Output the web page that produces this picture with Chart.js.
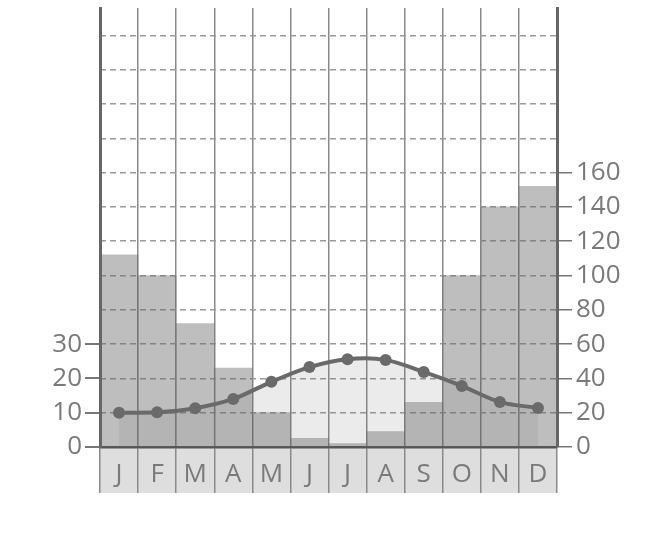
<!DOCTYPE html>
<html>
<head>
<meta charset="utf-8">
<script src="https://cdn.jsdelivr.net/npm/chart.js@4/dist/chart.umd.min.js"></script>
<style>
  body { margin: 0; background: #fff; }
  #wrap { width: 655px; height: 547px; }
</style>
</head>
<body>
<div id="wrap"><canvas id="canvas"></canvas></div>
<script>
const months = ['J', 'F', 'M', 'A', 'M', 'J', 'J', 'A', 'S', 'O', 'N', 'D']
const precip = [112, 100, 72, 46, 20, 5, 2, 9, 26, 100, 140, 152]
const temp = [10, 10.1, 11.3, 14, 19, 23.3, 25.6, 25.4, 21.9, 17.8, 13.1, 11.4]
const tempTicksMax = 30
const precipTicksMax = 160

const family = '"Open Sans", "Noto Sans", sans-serif'
const font = {family: family, size: 26}
const textGrey = '#7a7a7a'
// hidden ticks get a tiny font so they do not push the plot down
const tickFont = limit => c => ({family: family, size: c.tick && c.tick.value <= limit ? 26 : 1})

// light grey band behind the month letters
const monthBand = {
    id: 'monthBand',
    beforeDraw(chart) {
        const {ctx, chartArea} = chart
        const h = chart.options.scales.x.grid.tickLength
        ctx.save()
        ctx.fillStyle = '#dedede'
        ctx.fillRect(chartArea.left, chartArea.bottom, chartArea.right - chartArea.left, h)
        ctx.restore()
    }
}

new Chart(document.getElementById('canvas').getContext('2d'), {
    type: 'bar',
    data: {
        labels: months,
        datasets: [
            {
                type: 'line',
                label: 'Temperature',
                data: temp,
                yAxisID: 'y',
                order: 0,
                borderColor: '#6a6a6a',
                borderWidth: 4,
                pointRadius: 6,
                pointBackgroundColor: '#6a6a6a',
                pointBorderWidth: 0,
                tension: 0.3,
                fill: 'origin',
                backgroundColor: 'rgba(110,110,110,0.14)',
            },
            {
                label: 'Precipitation',
                data: precip,
                yAxisID: 'y1',
                order: 1,
                backgroundColor: 'rgba(100,100,100,0.42)',
                barPercentage: 1,
                categoryPercentage: 1,
            },
        ],
    },
    options: {
        responsive: true,
        maintainAspectRatio: false,
        animation: false,
        layout: {padding: {top: 8, left: 0, right: 0, bottom: 0}},
        plugins: {
            legend: {display: false},
            tooltip: {enabled: false},
        },
        scales: {
            x: {
                offset: true,
                grid: {
                    color: '#8a8a8a',
                    lineWidth: 1.5,
                    tickLength: 46,
                    offset: true,
                },
                border: {color: '#555', width: 2.5},
                ticks: {font: font, color: textGrey, padding: -34, maxRotation: 0},
                afterFit: s => { s.height = 100 },
            },
            y: {
                position: 'left',
                min: 0,
                max: 128,
                ticks: {
                    stepSize: 10,
                    autoSkip: false,
                    font: tickFont(tempTicksMax),
                    color: textGrey,
                    padding: 3,
                    callback: v => v <= tempTicksMax ? v : '',
                },
                grid: {
                    drawOnChartArea: false,
                    tickLength: 15,
                    lineWidth: 2,
                    tickColor: c => c.tick && c.tick.value <= tempTicksMax ? '#777' : 'rgba(0,0,0,0)',
                },
                border: {color: '#666', width: 3},
                afterFit: s => { s.width = 100 },
            },
            y1: {
                position: 'right',
                min: 0,
                max: 256,
                ticks: {
                    stepSize: 20,
                    autoSkip: false,
                    font: tickFont(precipTicksMax),
                    color: textGrey,
                    padding: 4,
                    callback: v => v <= precipTicksMax ? v : '',
                },
                grid: {
                    drawOnChartArea: true,
                    tickLength: 15,
                    lineWidth: 1.5,
                    color: c => c.tick && c.tick.value > 0 && c.tick.value <= 240 ? '#9a9a9a' : 'rgba(0,0,0,0)',
                    tickColor: c => c.tick && c.tick.value <= precipTicksMax ? '#777' : 'rgba(0,0,0,0)',
                    tickBorderDash: [],
                },
                border: {color: '#666', width: 3, dash: [6, 4]},
                afterFit: s => { s.width = 98 },
            },
        },
    },
    plugins: [monthBand],
})
</script>
</body>
</html>
